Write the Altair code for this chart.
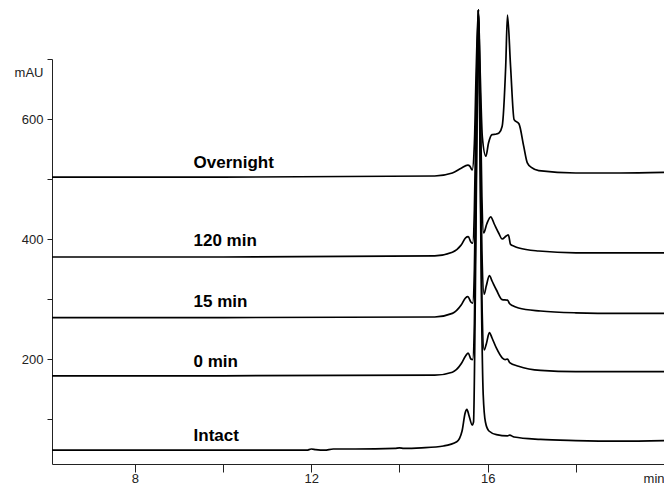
import altair as alt
import pandas as pd

# ---- data (time in min, absorbance in mAU) ----
intact_t = [6.12, 8.0, 10.0, 11.9, 12.0, 12.1, 12.3, 12.5, 13.0, 13.9, 14.0, 14.1, 14.5, 15.0, 15.3, 15.42,
            15.49, 15.53, 15.58, 15.65, 15.68, 15.72, 15.76, 15.79, 15.82, 15.86, 15.9, 15.95, 16.03, 16.2,
            16.45, 16.5, 16.6, 17.2, 18.0, 19.0, 20.0]
intact_v = [48, 48, 48, 48, 50, 49, 48, 50, 50, 51, 52, 51, 52, 55, 62, 80,
            110, 116, 105, 90, 95, 300, 600, 782, 600, 300, 140, 95, 80, 74,
            72, 73, 70, 66, 64, 63, 64]

min0_t = [6.12, 10.0, 14.8, 15.2, 15.4, 15.5, 15.56, 15.62, 15.66, 15.7, 15.74, 15.79, 15.83, 15.87, 15.92,
          15.97, 16.04, 16.1, 16.2, 16.33, 16.4, 16.45, 16.5, 16.7, 17.2, 18.0, 19.0, 20.0]
min0_v = [172, 172, 173, 178, 192, 205, 210, 200, 199, 260, 500, 782, 550, 300, 215,
          225, 244, 235, 218, 202, 199, 200, 194, 188, 181, 179, 179, 179]

min15_t = [6.12, 10.0, 14.8, 15.2, 15.4, 15.5, 15.55, 15.62, 15.66, 15.7, 15.74, 15.79, 15.83, 15.87, 15.92,
           15.97, 16.04, 16.1, 16.2, 16.33, 16.45, 16.5, 16.56, 16.7, 17.2, 18.0, 19.0, 20.0]
min15_v = [269, 269, 270, 276, 290, 302, 304, 295, 293, 350, 550, 782, 600, 380, 308,
           322, 339, 330, 315, 299, 298, 292, 289, 285, 280, 277, 276, 276]

min120_t = [6.12, 10.0, 14.8, 15.2, 15.4, 15.5, 15.56, 15.62, 15.66, 15.7, 15.74, 15.79, 15.83, 15.87, 15.91,
            15.98, 16.07, 16.15, 16.25, 16.33, 16.42, 16.47, 16.52, 16.6, 16.71, 17.16, 18.0, 19.0, 20.0]
min120_v = [370, 370, 372, 378, 390, 402, 404, 395, 393, 450, 620, 782, 650, 470, 410,
            425, 437, 425, 410, 400, 405, 407, 391, 388, 385, 380, 377, 377, 377]

overnight_t = [6.12, 8.0, 10.0, 14.8, 15.2, 15.4, 15.55, 15.6, 15.65, 15.7, 15.74, 15.79, 15.83, 15.88, 15.96,
               16.02, 16.1, 16.2, 16.26, 16.33, 16.41, 16.45, 16.52, 16.6, 16.71, 16.82, 16.9, 17.0, 17.16,
               18.0, 19.0, 20.0]
overnight_v = [503, 503, 503, 505, 510, 518, 523, 521, 515, 560, 680, 782, 680, 570, 538,
               560, 574, 575, 577, 588, 688, 773, 688, 599, 592, 554, 527, 519, 514,
               510, 510, 511]

label_text = ["Overnight", "120 min", "15 min", "0 min", "Intact"]
label_t = [9.33, 9.33, 9.33, 9.33, 9.33]
label_v = [527, 397, 295, 195, 72]

# ---- build table ----
rows = []
for name, ts, vs in [("Intact", intact_t, intact_v), ("0 min", min0_t, min0_v),
                     ("15 min", min15_t, min15_v), ("120 min", min120_t, min120_v),
                     ("Overnight", overnight_t, overnight_v)]:
    for t, v in zip(ts, vs):
        rows.append({"trace": name, "t": t, "mAU": v})
df = pd.DataFrame(rows)
labels = pd.DataFrame({"label": label_text, "t": label_t, "mAU": label_v})

FONT = "Liberation Sans"

xscale = alt.Scale(domain=[6.12, 20.0], nice=False, zero=False)
yscale = alt.Scale(domain=[25, 700], nice=False, zero=False)

xaxis = alt.Axis(values=[8, 10, 12, 14, 16, 18, 20],
                 labelExpr="datum.value == 20 ? 'min' : (datum.value % 4 == 0 ? datum.value : '')",
                 title=None, grid=False, tickSize=8, labelPadding=0, labelFontSize=13,
                 labelFont=FONT, labelColor="#222", domainColor="#222", tickColor="#222",
                 labelFlush=True)
yaxis = alt.Axis(values=[100, 200, 300, 400, 500, 600, 700],
                 labelExpr="datum.value % 200 == 0 ? datum.value : ''",
                 title="mAU", titleAngle=0, titleX=-9, titleY=13, titleAlign="right",
                 titleBaseline="middle", titleFont=FONT, titleFontSize=13, titleFontWeight="normal",
                 titleColor="#222",
                 grid=False, tickSize=5, labelPadding=4, labelFontSize=13, labelFont=FONT,
                 labelColor="#222", domainColor="#222", tickColor="#222")

lines = alt.Chart(df).mark_line(color="black", strokeWidth=1.7, interpolate="monotone").encode(
    x=alt.X("t:Q", scale=xscale, axis=xaxis),
    y=alt.Y("mAU:Q", scale=yscale, axis=yaxis),
    detail="trace:N",
)

texts = alt.Chart(labels).mark_text(align="left", baseline="middle", font=FONT, fontSize=17,
                                    fontWeight="bold", color="black").encode(
    x=alt.X("t:Q", scale=xscale),
    y=alt.Y("mAU:Q", scale=yscale),
    text="label:N",
)

chart = alt.layer(lines, texts).properties(
    width=612, height=405,
    autosize=alt.AutoSizeParams(type="none"),
    padding={"left": 44, "top": 51, "right": 0, "bottom": 22},
    background="white",
).configure_view(strokeWidth=0, stroke="transparent")

chart.save("out.html", embed_options={"renderer": "svg", "actions": False})
